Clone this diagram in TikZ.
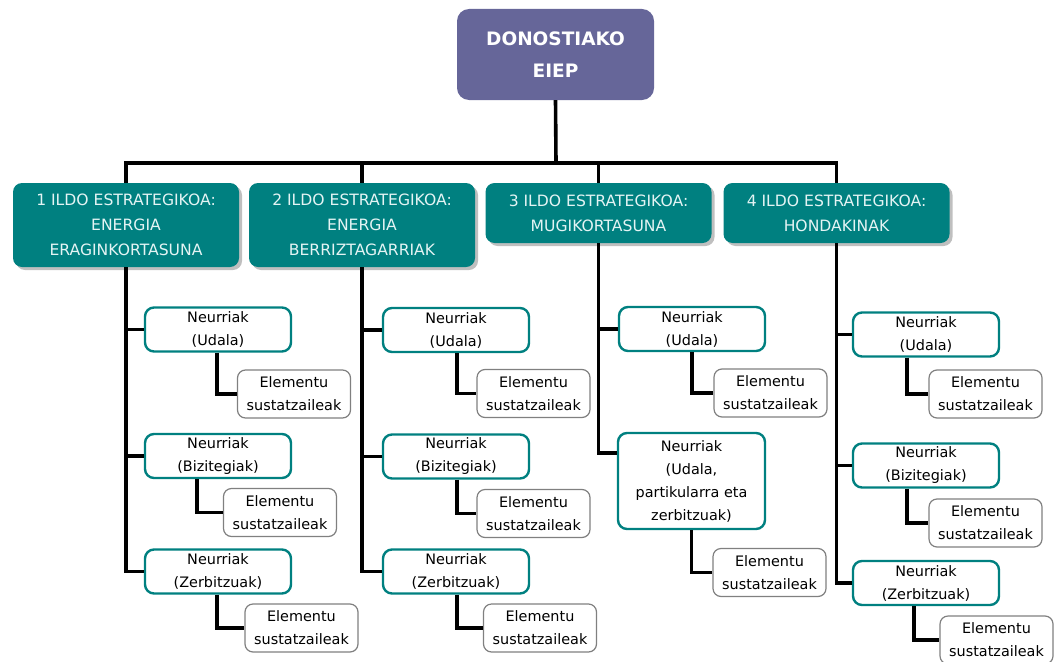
\documentclass[tikz,border=0pt]{standalone}
\usepackage{fontspec}
\setmainfont{DejaVu Sans}
\usetikzlibrary{shadows}
\definecolor{eiep}{RGB}{102,102,153}
\definecolor{ildo}{RGB}{0,128,128}
\definecolor{ildotext}{RGB}{228,244,244}

\begin{document}
\begin{tikzpicture}
 [
  x=1pt, y=-1pt,
  link/.style    = {draw, line width=3.6pt, line join=miter},
  eiepbox/.style = {rounded corners=12pt, fill=eiep, text=white, align=center,
                    font=\bfseries\fontsize{18.5}{32}\selectfont,
                    minimum width=197pt, minimum height=91pt, inner sep=0pt},
  ildobox/.style = {rounded corners=9pt, fill=ildo, text=ildotext, align=center,
                    font=\fontsize{15.6}{25}\selectfont,
                    minimum width=226pt, inner sep=0pt,
                    drop shadow={shadow xshift=3pt, shadow yshift=-3pt, fill=black!50}},
  neurbox/.style = {rounded corners=9pt, draw=ildo, line width=2.4pt, fill=white,
                    align=center, font=\fontsize{14.4}{23}\selectfont,
                    minimum width=146pt, minimum height=44pt, inner sep=0pt},
  elembox/.style = {rounded corners=8pt, draw=black!50, line width=1.2pt, fill=white,
                    align=center, font=\fontsize{14.4}{23}\selectfont,
                    minimum width=113pt, minimum height=48pt, inner sep=0pt},
 ]
 \useasboundingbox (0,0) rectangle (1056,661);

 % root and the four lines
 \node[eiepbox] (top) at (555.5,54.5) {DONOSTIAKO\\EIEP};
 \node[ildobox, minimum height=84pt] (h1) at (126,225)
   {1 ILDO ESTRATEGIKOA:\\ENERGIA\\ERAGINKORTASUNA};
 \node[ildobox, minimum height=84pt] (h2) at (362,225)
   {2 ILDO ESTRATEGIKOA:\\ENERGIA\\BERRIZTAGARRIAK};
 \node[ildobox, minimum height=60pt] (h3) at (598.5,213)
   {3 ILDO ESTRATEGIKOA:\\MUGIKORTASUNA};
 \node[ildobox, minimum height=60pt] (h4) at (836.5,213)
   {4 ILDO ESTRATEGIKOA:\\HONDAKINAK};

 \coordinate (bus) at (556,163);
 \draw[link] (top.south) -- (bus);
 \foreach \h in {h1,h2,h3,h4}
  \draw[link] (bus) -| (\h.north);

 % 1: energia eraginkortasuna
 \node[neurbox] (n1a) at (218,329.5) {Neurriak\\(Udala)};
 \node[neurbox] (n1b) at (218,456)   {Neurriak\\(Bizitegiak)};
 \node[neurbox] (n1c) at (218,571.5) {Neurriak\\(Zerbitzuak)};
 \node[elembox] (e1a) at (294,394)   {Elementu\\sustatzaileak};
 \node[elembox] (e1b) at (280,512.5) {Elementu\\sustatzaileak};
 \node[elembox] (e1c) at (301.5,628) {Elementu\\sustatzaileak};

 % 2: energia berriztagarriak
 \node[neurbox] (n2a) at (456,330)   {Neurriak\\(Udala)};
 \node[neurbox] (n2b) at (456,456.5) {Neurriak\\(Bizitegiak)};
 \node[neurbox] (n2c) at (456,571.5) {Neurriak\\(Zerbitzuak)};
 \node[elembox] (e2a) at (533.5,393.5) {Elementu\\sustatzaileak};
 \node[elembox] (e2b) at (533.5,513.5) {Elementu\\sustatzaileak};
 \node[elembox] (e2c) at (540,628)     {Elementu\\sustatzaileak};

 % 3: mugikortasuna
 \node[neurbox] (n3a) at (692,329) {Neurriak\\(Udala)};
 \node[neurbox, minimum width=147pt, minimum height=96pt] (n3b) at (691.5,481)
   {Neurriak\\(Udala,\\partikularra eta\\zerbitzuak)};
 \node[elembox] (e3a) at (770.5,393)   {Elementu\\sustatzaileak};
 \node[elembox] (e3b) at (769.5,572.5) {Elementu\\sustatzaileak};

 % 4: hondakinak
 \node[neurbox] (n4a) at (926,334.5) {Neurriak\\(Udala)};
 \node[neurbox] (n4b) at (926,465.5) {Neurriak\\(Bizitegiak)};
 \node[neurbox] (n4c) at (926,583)   {Neurriak\\(Zerbitzuak)};
 \node[elembox] (e4a) at (985.5,394) {Elementu\\sustatzaileak};
 \node[elembox] (e4b) at (985.5,523) {Elementu\\sustatzaileak};
 \node[elembox] (e4c) at (996.5,640) {Elementu\\sustatzaileak};

 % trunks
 \foreach \n in {n1a,n1b,n1c}
  \draw[link] (h1.south) |- (\n.west);
 \foreach \n in {n2a,n2b,n2c}
  \draw[link] (h2.south) |- (\n.west);
 \draw[link] (h3.south) |- (n3a.west);
 \draw[link] (h3.south) |- ([yshift=28pt]n3b.west);
 \foreach \n in {n4a,n4b,n4c}
  \draw[link] (h4.south) |- (\n.west);

 % neurriak -> elementu
 \draw[link] ([xshift=-1pt]n1a.south)  |- (e1a.west);
 \draw[link] ([xshift=-21pt]n1b.south) |- (e1b.west);
 \draw[link] ([xshift=-1pt]n1c.south)  |- (e1c.west);
 \foreach \s in {a,b,c}
  \draw[link] ([xshift=1pt]n2\s.south) |- (e2\s.west);
 \draw[link] (n3a.south) |- (e3a.west);
 \draw[link] (n3b.south) |- (e3b.west);
 \draw[link] ([xshift=-19pt]n4a.south) |- (e4a.west);
 \draw[link] ([xshift=-19pt]n4b.south) |- (e4b.west);
 \draw[link] ([xshift=-12pt]n4c.south) |- (e4c.west);
\end{tikzpicture}
\end{document}
